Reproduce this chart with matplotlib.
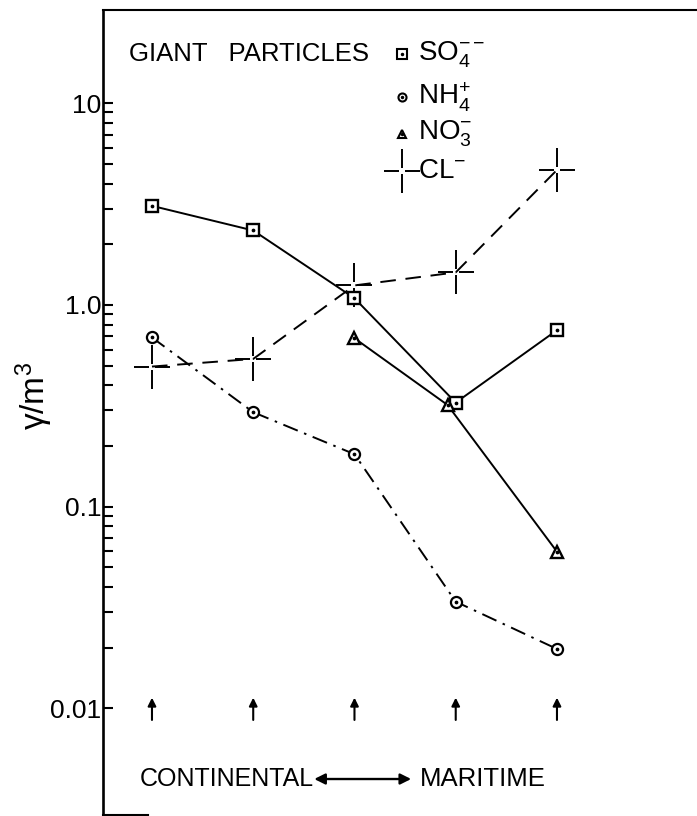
import matplotlib
matplotlib.use("Agg")
import matplotlib.pyplot as plt
from matplotlib.path import Path
from matplotlib.ticker import FixedLocator, NullFormatter

plt.rcParams['font.family'] = ['Liberation Sans', 'DejaVu Sans']
plt.rcParams['mathtext.fontset'] = 'custom'
plt.rcParams['mathtext.rm'] = 'Liberation Sans'
plt.rcParams['mathtext.it'] = 'Liberation Sans'
plt.rcParams['mathtext.bf'] = 'Liberation Sans'

# Sampling stations, continental (1) to maritime (5)
stations = [1, 2, 3, 4, 5]
so4 = [3.10, 2.34, 1.08, 0.328, 0.75]
nh4 = [0.69, 0.294, 0.182, 0.0338, 0.0197]
no3_x = [3, 3.92, 5]
no3 = [0.684, 0.319, 0.0598]
cl = [0.495, 0.54, 1.25, 1.45, 4.67]

ytick_values = [0.01, 0.1, 1.0, 10]
ytick_labels = ['0.01', '0.1', '1.0', '10']
minor_values = [m * 10.0 ** e for e in (-2, -1, 0) for m in range(2, 10)]

legend_labels = [r'$\mathrm{SO}_4^{--}$', r'$\mathrm{NH}_4^{+}$',
                 r'$\mathrm{NO}_3^{-}$', r'$\mathrm{CL}^{-}$']


def broken_cross(gap=0.16, hx=0.85, vy=1.0):
    """Plus sign whose arms do not meet in the middle."""
    verts = [(-hx, 0), (-gap, 0), (gap, 0), (hx, 0),
             (0, -vy), (0, -gap), (0, gap), (0, vy)]
    codes = [Path.MOVETO, Path.LINETO] * 4
    return Path(verts, codes)


CROSS = broken_cross()

fig = plt.figure(figsize=(6.97, 8.16), dpi=100)
ax = fig.add_axes([0.1473, 0.00123, 0.8527, 0.98652])
ax.set_yscale('log')
ax.set_ylim(0.00296, 29.0)
ax.set_xlim(0.513, 6.383)

# axes frame: heavy left spine, top rule, short stub at the bottom
ax.spines['right'].set_visible(False)
ax.spines['left'].set_linewidth(1.9)
ax.spines['top'].set_linewidth(1.5)
ax.spines['bottom'].set_linewidth(1.5)
ax.spines['bottom'].set_bounds(0.513, 0.96)

ax.set_xticks([])
ax.yaxis.set_major_locator(FixedLocator(ytick_values))
ax.set_yticklabels(ytick_labels)
ax.yaxis.set_minor_locator(FixedLocator(minor_values))
ax.yaxis.set_minor_formatter(NullFormatter())
ax.tick_params(axis='y', which='both', direction='in', length=7.5,
               width=1.5, pad=1, labelsize=19, left=True, right=False)

line_kw = dict(color='black', lw=1.4)
dot_kw = dict(ls='none', marker='o', ms=1.7, color='black', zorder=5)

# sulphate
ax.plot(stations, so4, ls='-', marker='s', ms=8.4, mfc='white', mec='black',
        mew=1.7, zorder=4, **line_kw)
ax.plot(stations, so4, **dot_kw)

# ammonium
ax.plot(stations, nh4, ls=(0, (8, 3.5, 1.3, 3.5)), marker='o', ms=8.0,
        mfc='white', mec='black', mew=1.6, zorder=4, **line_kw)
ax.plot(stations, nh4, **dot_kw)

# nitrate
ax.plot(no3_x, no3, ls='-', marker='^', ms=8.0, mfc='white', mec='black',
        mew=1.7, zorder=4, **line_kw)
ax.plot(no3_x, no3, **dot_kw)

# chloride
ax.plot(stations, cl, ls=(0, (8, 5)), marker=CROSS, ms=31, mfc='none',
        mec='black', mew=1.4, zorder=3, **line_kw)

# station arrows along the bottom
for s in stations:
    ax.annotate('', xy=(s, 0.0113), xytext=(s, 0.00876),
                arrowprops=dict(arrowstyle='-|>', color='black', lw=1.5,
                                mutation_scale=12, shrinkA=0, shrinkB=0))

# title and key
ax.text(0.0443, 0.945, 'GIANT   PARTICLES', transform=ax.transAxes,
        ha='left', va='center', fontsize=18.5)

key_rows = [0.945, 0.892, 0.846, 0.800]
key_markers = [dict(marker='s', ms=6.6), dict(marker='o', ms=5.8),
               dict(marker='^', ms=5.8)]
for row, mk in zip(key_rows[:3], key_markers):
    ax.plot([0.5036], [row], transform=ax.transAxes, ls='none', mfc='white',
            mec='black', mew=1.5, clip_on=False, **mk)
    ax.plot([0.5036], [row], transform=ax.transAxes, ls='none', marker='o',
            ms=1.5, color='black', clip_on=False)
ax.plot([0.5036], [key_rows[3]], transform=ax.transAxes, ls='none',
        marker=CROSS, ms=31, mfc='none', mec='black', mew=1.4, clip_on=False)
for row, lab in zip(key_rows, legend_labels):
    ax.text(0.5306, row, lab, transform=ax.transAxes, ha='left',
            va='center', fontsize=20)

# continental / maritime direction
ax.text(0.0628, 0.0447, 'CONTINENTAL', transform=ax.transAxes, ha='left',
        va='center', fontsize=18)
ax.text(0.534, 0.0447, 'MARITIME', transform=ax.transAxes, ha='left',
        va='center', fontsize=18.5)
ax.annotate('', xy=(0.356, 0.0447), xytext=(0.519, 0.0447),
            xycoords='axes fraction', textcoords='axes fraction',
            arrowprops=dict(arrowstyle='<|-|>', color='black', lw=1.7,
                            mutation_scale=16, shrinkA=0, shrinkB=0))

fig.text(0.0488, 0.5147, r'$\gamma$/m$^3$', rotation=90, ha='center',
         va='center', fontsize=24)

fig.savefig('out.png', dpi=100)
